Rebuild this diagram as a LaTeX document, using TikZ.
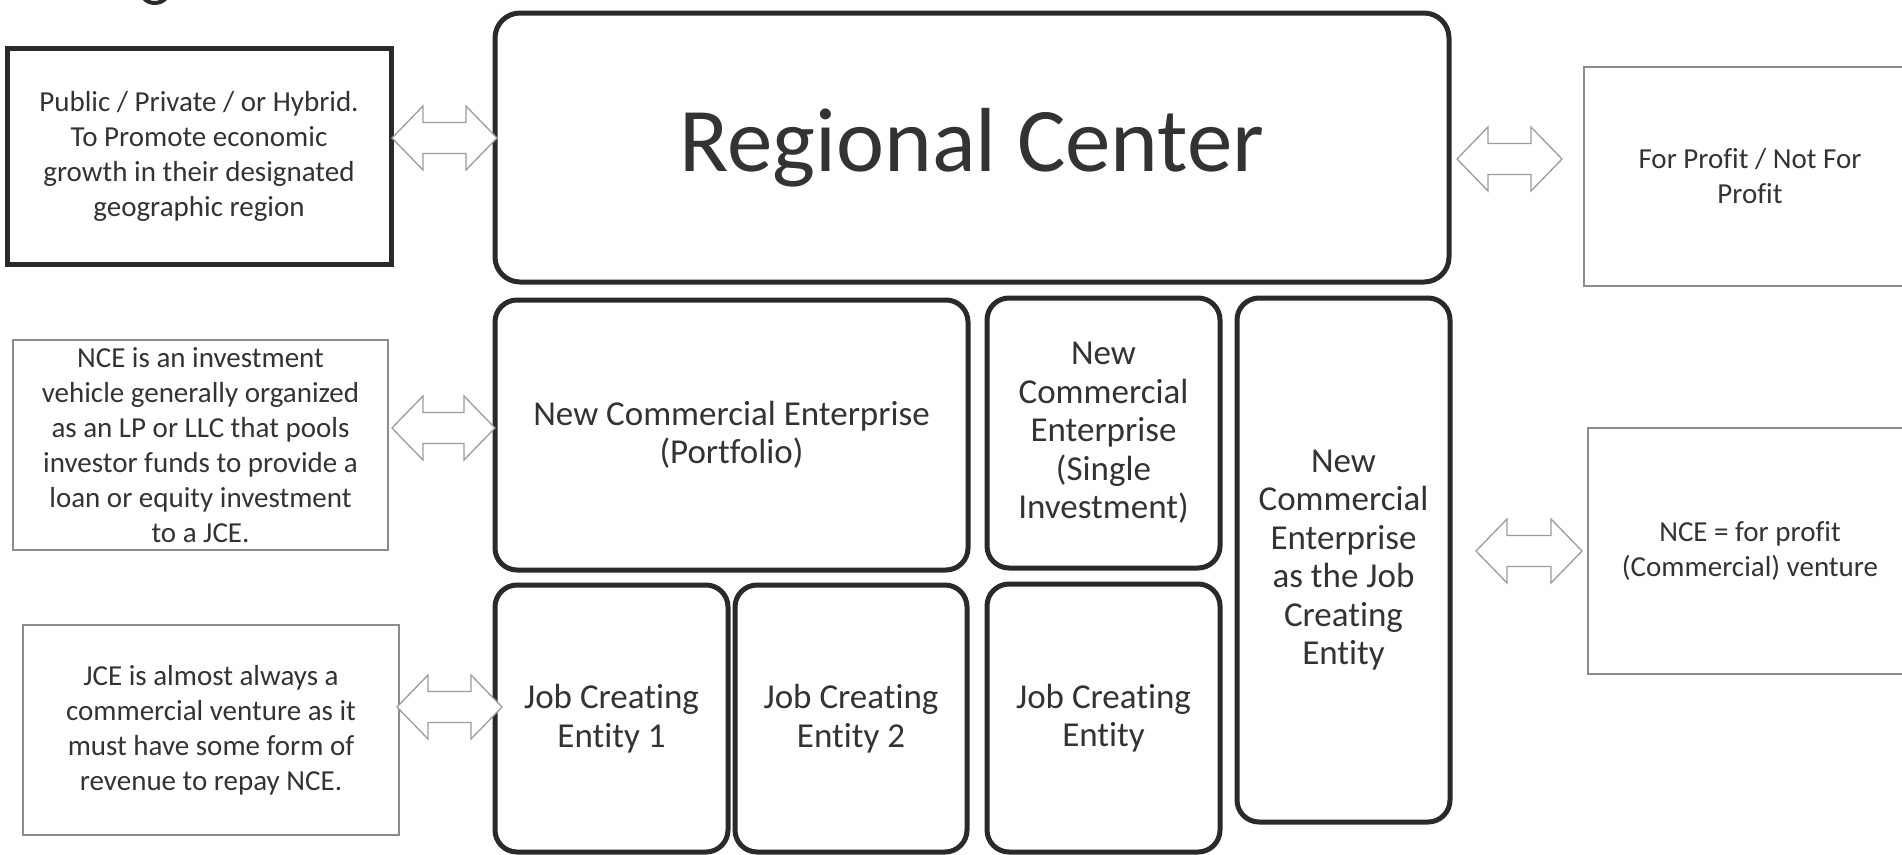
\documentclass[tikz,border=0pt]{standalone}
\usepackage{fontspec}
\setmainfont{Carlito}[Ligatures={NoCommon}]
\usetikzlibrary{calc}
\definecolor{ink}{HTML}{2A2A2A}
\definecolor{txt}{HTML}{333333}
\definecolor{thin}{HTML}{8C8C8C}
\definecolor{arr}{HTML}{9C9C9C}
\newcommand\dblarr[2]{%
  \draw[arrowsty] (#1) -- ($(#1)+(31,-32)$) -- ($(#1)+(31,-15.5)$) -- ($(#2)+(-31,-15.5)$)
    -- ($(#2)+(-31,-32)$) -- (#2) -- ($(#2)+(-31,32)$) -- ($(#2)+(-31,15.5)$)
    -- ($(#1)+(31,15.5)$) -- ($(#1)+(31,32)$) -- cycle;}
\tikzset{
  rbox/.style={draw=ink, line width=5pt, rounded corners=22pt, inner sep=0pt, text=txt, align=center,
    font=\fontsize{35}{38.5}\selectfont},
  sqbox/.style={draw=ink, line width=5pt, inner sep=0pt, text=txt, align=center,
    font=\fontsize{29}{35}\selectfont},
  thinbox/.style={draw=thin, line width=1.6pt, inner sep=0pt, text=txt, align=center,
    font=\fontsize{29}{35}\selectfont},
  arrowsty/.style={draw=arr, line width=1.3pt, fill=white, line join=miter},
}
\begin{document}
\begin{tikzpicture}[x=1pt, y=-1pt]
\useasboundingbox (0,0) rectangle (1902,854);
\fill[white] (0,0) rectangle (1902,854);
\clip (0,0) rectangle (1902,854);
% partial shape cut at top edge
\draw[ink, line width=4pt] (143,-3) .. controls (148,5) and (161,5) .. (167,-3);
% left notes
\node[sqbox, minimum width=384pt, minimum height=216pt] (box1) at (199,156)
  {Public / Private / or Hybrid.\\To Promote economic\\growth in their designated\\geographic region};
\node[thinbox, minimum width=375pt, minimum height=210pt] (nceL) at (200.5,445)
  {NCE is an investment\\vehicle generally organized\\as an LP or LLC that pools\\investor funds to provide a\\loan or equity investment\\to a JCE.};
\node[thinbox, minimum width=376pt, minimum height=210pt] (jceL) at (211,730)
  {JCE is almost always a\\commercial venture as it\\must have some form of\\revenue to repay NCE.};
% right notes
\node[thinbox, minimum width=332pt, minimum height=219pt] (r1) at (1750,176.5)
  {For Profit / Not For\\Profit};
\node[thinbox, minimum width=324pt, minimum height=246pt] (r2) at (1750,551)
  {NCE = for profit\\(Commercial) venture};
% main structure
\node[rbox, rounded corners=25pt, minimum width=954pt, minimum height=269pt,
  font=\fontsize{91}{100}\selectfont] (rc) at (972,147.5) {Regional Center};
\node[rbox, minimum width=473pt, minimum height=270pt] (port) at (731.5,435)
  {New Commercial Enterprise\\(Portfolio)};
\node[rbox, minimum width=233pt, minimum height=270pt] (single) at (1103.5,433)
  {New\\Commercial\\Enterprise\\(Single\\Investment)};
\node[rbox, minimum width=213pt, minimum height=524pt] (ncejce) at (1343.5,560)
  {New\\Commercial\\Enterprise\\as the Job\\Creating\\Entity};
\node[rbox, minimum width=233pt, minimum height=267pt] (jce1) at (611.5,718.5)
  {Job Creating\\Entity 1};
\node[rbox, minimum width=232pt, minimum height=267pt] (jce2) at (851,718.5)
  {Job Creating\\Entity 2};
\node[rbox, minimum width=233pt, minimum height=268pt] (jce3) at (1103.5,718)
  {Job Creating\\Entity};
% arrow end points
\coordinate (a1l) at (392,138);  \coordinate (a1r) at (497,138);
\coordinate (a2l) at (1457,159); \coordinate (a2r) at (1562,159);
\coordinate (a3l) at (392,428);  \coordinate (a3r) at (495,428);
\coordinate (a4l) at (397,707);  \coordinate (a4r) at (502,707);
\coordinate (a5l) at (1476,551); \coordinate (a5r) at (1582,551);
\dblarr{a1l}{a1r}
\dblarr{a2l}{a2r}
\dblarr{a3l}{a3r}
\dblarr{a4l}{a4r}
\dblarr{a5l}{a5r}
\end{tikzpicture}
\end{document}
